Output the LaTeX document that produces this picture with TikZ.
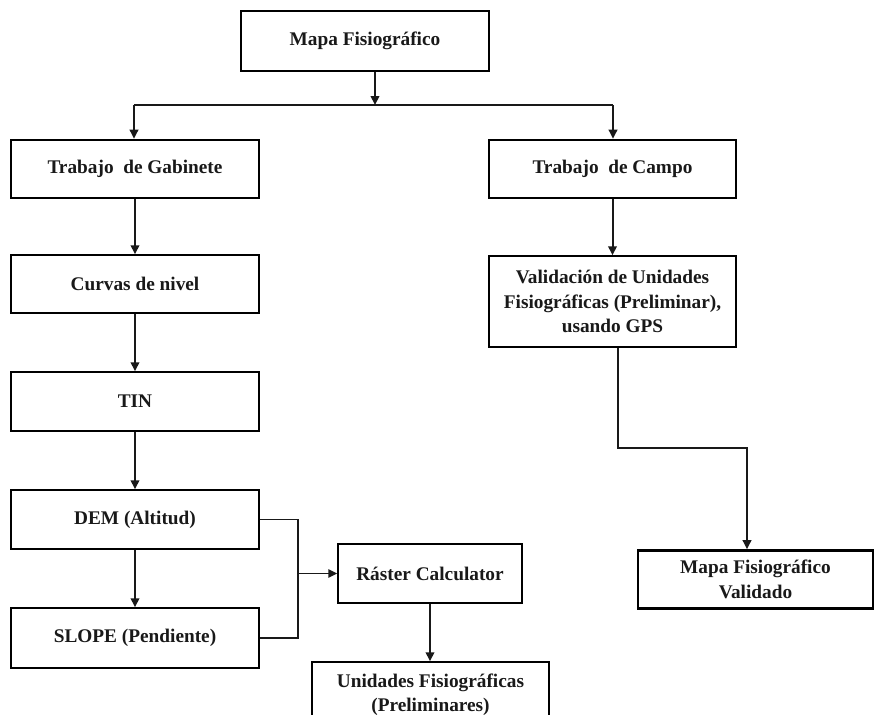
\documentclass[tikz,border=0pt]{standalone}
\usepackage{fontspec}
\setmainfont{Liberation Serif}
\usetikzlibrary{arrows.meta}
\begin{document}
\begin{tikzpicture}[x=1pt,y=-1pt,
  box/.style={draw=black, rectangle, inner sep=0pt, align=center,
    font=\fontsize{19.3}{24.5}\selectfont\bfseries, text=black!90},
  thickbox/.style={box, line width=2.6pt},
  thinbox/.style={box, line width=1.5pt},
  conn/.style={line width=2pt, draw=black!90},
  arr/.style={conn, -{Triangle[length=9pt,width=8.5pt]}},
  bracket/.style={line width=1.3pt, draw=black!90},
  lineto/.style={conn}
]
\useasboundingbox (0,0) rectangle (876,715);
\fill[white] (0,0) rectangle (876,715);

\node[thickbox, minimum width=248pt, minimum height=60pt] (mapa) at (365,41) {Mapa Fisiográfico};
\node[thickbox, minimum width=248pt, minimum height=58pt] (gab) at (135,169) {Trabajo\ \ de Gabinete};
\node[thickbox, minimum width=247pt, minimum height=58pt] (campo) at (612.5,169) {Trabajo\ \ de Campo};
\node[thinbox, minimum width=248pt, minimum height=58pt] (curvas) at (135,284) {Curvas de nivel};
\node[thinbox, minimum width=248pt, minimum height=59pt] (tin) at (135,401.5) {TIN};
\node[thinbox, minimum width=248pt, minimum height=59pt] (dem) at (135,519.5) {DEM (Altitud)};
\node[thinbox, minimum width=248pt, minimum height=60pt] (slope) at (135,638) {SLOPE (Pendiente)};
\node[thinbox, minimum width=247pt, minimum height=91pt] (valid) at (612.5,301.5) {Validación de Unidades\\Fisiográficas (Preliminar),\\usando GPS};
\node[thinbox, minimum width=184pt, minimum height=59pt] (raster) at (430,573.5) {Ráster Calculator};
\node[thinbox, minimum width=237pt, minimum height=66pt] (unid) at (430.5,695) {Unidades Fisiográficas\\(Preliminares)};
\node[thickbox, minimum width=235pt, minimum height=58pt] (validado) at (755.5,579.5) {Mapa Fisiográfico\\Validado};

% top branching
\coordinate (tm) at (375,105);
\coordinate (tl) at (134,105);
\coordinate (tr) at (613,105);
\draw[arr] (mapa.south -| tm) -- (tm);
\draw[lineto] (tl) -- (tr);
\draw[arr] (tl) -- (gab.north -| tl);
\draw[arr] (tr) -- (campo.north -| tr);

% left column
\draw[arr] (gab.south) -- (curvas.north);
\draw[arr] (curvas.south) -- (tin.north);
\draw[arr] (tin.south) -- (dem.north);
\draw[arr] (dem.south) -- (slope.north);

% right column
\draw[arr] (campo.south) -- (valid.north);
\coordinate (e1) at (618,448);
\coordinate (e2) at (747,448);
\draw[arr] (valid.south -| e1) -- (e1) -- (e2) -- (validado.north -| e2);

% bracket to raster
\coordinate (bx) at (298,574);
\draw[bracket] (dem.east) -| (bx) |- (slope.east);
\draw[arr, line width=1.6pt] (bx |- raster.west) -- (raster.west);
\draw[arr] (raster.south) -- (unid.north -| raster.south);
\end{tikzpicture}
\end{document}
